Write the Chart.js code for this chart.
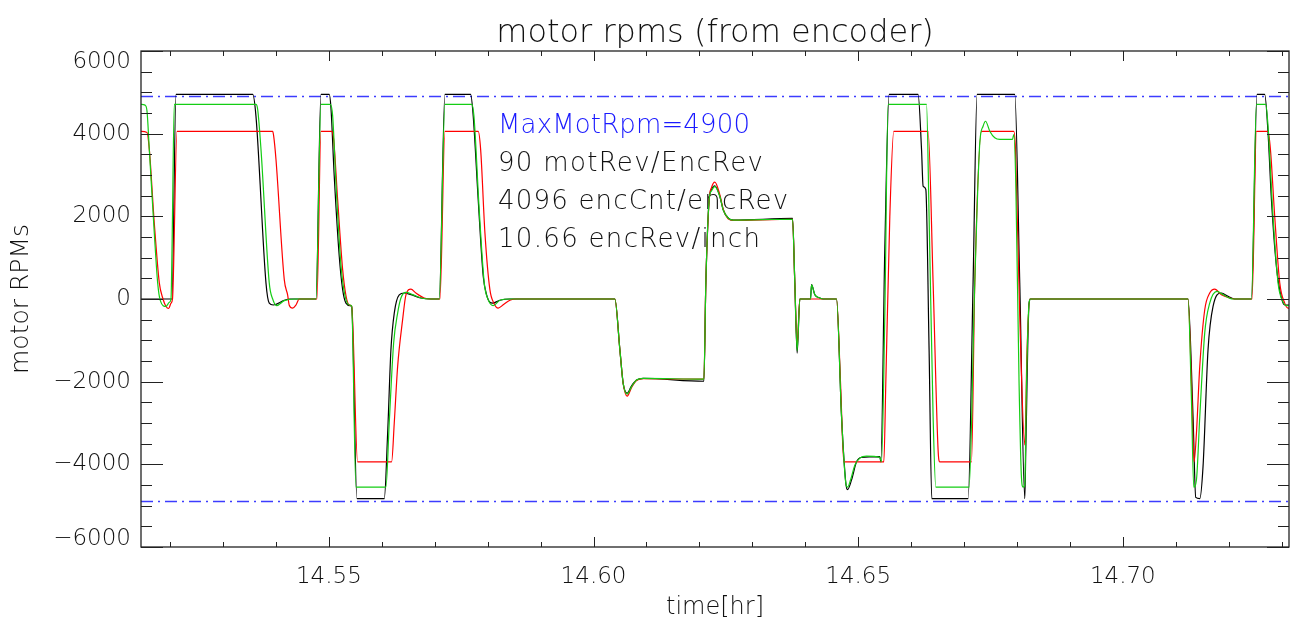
<!DOCTYPE html>
<html>
<head>
<meta charset="utf-8">
<script src="https://cdn.jsdelivr.net/npm/chart.js@4/dist/chart.umd.min.js"></script>
<style>
html,body{margin:0;padding:0;background:#fff;}
canvas{display:block;}
</style>
</head>
<body>
<canvas id="c" width="1297" height="624"></canvas>
<script>
// ---- data (time in hr, motor RPM) ----
const blackT = [14.51450,14.52036,14.52111,14.53560,14.53622,14.53811,14.53873,14.53949,14.54157,14.54264,
 14.54756,14.54850,14.55007,14.55039,14.55101,14.55196,14.55260,14.55322,14.55403,14.55430,14.55530,14.56046,
 14.56110,14.56172,14.56235,14.56329,14.56423,14.56550,14.56739,14.56928,14.57085,14.57192,14.57678,14.57727,
 14.57821,14.57916,14.57980,14.58042,14.58093,14.58231,14.58420,14.60403,14.60498,14.60560,14.60636,14.60719,
 14.60813,14.60938,14.62085,14.62122,14.62185,14.62230,14.62292,14.62387,14.62449,14.62544,14.62638,14.63760,
 14.63803,14.63847,14.63898,14.64100,14.64119,14.64181,14.64276,14.64338,14.64591,14.64686,14.64767,14.64799,
 14.64874,14.64969,14.65063,14.65409,14.65428,14.65503,14.65585,14.66132,14.66197,14.66227,14.66278,14.66340,
 14.66391,14.67077,14.67171,14.67247,14.67959,14.68053,14.68148,14.68167,14.68229,14.68256,14.71232,14.71327,
 14.71378,14.71454,14.71516,14.71610,14.71705,14.71863,14.71988,14.72115,14.72430,14.72536,14.72681,14.72744,
 14.72808,14.72902,14.72997,14.73059,14.73154];
const blackV = [0,0,4950,4950,4425,390,-100,-145,-30,0,
 0,4950,4950,4620,2970,1030,225,-100,-160,-180,-4830,-4830,
 -3250,-1230,-340,100,145,105,25,0,0,4950,4950,4425,
 2400,550,100,-80,-100,-30,0,0,-1230,-2040,-2280,-2100,
 -1960,-1920,-1990,390,2400,2650,2740,2480,2160,1960,1910,1950,
 390,-1310,0,0,350,105,25,0,0,-2850,-4460,-4610,
 -4380,-3940,-3830,-3815,-3940,1200,4950,4950,3620,2730,2650,-1230,
 -4830,-4830,390,4950,4950,390,-4830,-3650,-100,0,0,-2850,
 -4800,-4830,-4050,-1230,-180,145,65,0,0,4950,4950,4020,
 2400,790,25,-145,-145];

const greenT = [14.51450,14.51526,14.51563,14.51607,14.51701,14.51765,14.51815,14.51922,14.51985,14.52017,
 14.52036,14.52079,14.53622,14.53654,14.53717,14.53873,14.53938,14.54013,14.54157,14.54346,14.54756,14.54850,
 14.55026,14.55071,14.55133,14.55228,14.55303,14.55385,14.55430,14.55511,14.56078,14.56140,14.56223,14.56299,
 14.56361,14.56456,14.56582,14.56739,14.56928,14.57085,14.57192,14.57697,14.57740,14.57840,14.57935,14.58010,
 14.58105,14.58231,14.58420,14.60403,14.60498,14.60560,14.60636,14.60719,14.60813,14.60938,14.62085,14.62122,
 14.62185,14.62230,14.62292,14.62387,14.62449,14.62544,14.62638,14.63760,14.63803,14.63847,14.63898,14.64100,
 14.64119,14.64181,14.64276,14.64338,14.64591,14.64686,14.64767,14.64799,14.64856,14.64937,14.65031,14.65158,
 14.65409,14.65441,14.65503,14.65566,14.66291,14.66340,14.66416,14.66467,14.67096,14.67203,14.67298,14.67360,
 14.67406,14.67487,14.67581,14.67676,14.67916,14.67940,14.67978,14.68040,14.68086,14.68116,14.68148,14.68180,
 14.68229,14.68256,14.71232,14.71297,14.71340,14.71391,14.71454,14.71548,14.71642,14.71780,14.71894,14.72082,
 14.72430,14.72525,14.72700,14.72744,14.72838,14.72933,14.73016,14.73091,14.73154];
const greenV = [4710,4690,4550,3620,1600,390,-40,-180,-80,0,
 1200,4710,4710,4590,3620,390,0,-160,-40,0,0,4710,
 4710,4430,2810,820,85,-145,-170,-4550,-4550,-3000,-1070,-340,
 25,160,105,25,0,0,4710,4710,4430,2160,390,-15,
 -160,-30,0,0,-1230,-2040,-2300,-2120,-1960,-1920,-1940,390,
 2400,2620,2720,2480,2160,1960,1910,1930,390,-1250,0,0,
 340,105,25,0,0,-2850,-4460,-4550,-4380,-4020,-3850,-3800,
 -3830,-3940,-420,4710,4710,2000,-2850,-4550,-4550,390,3780,4180,
 4300,4060,3900,3860,3860,3980,2810,-2040,-4340,-4550,-4500,-2040,
 -100,0,0,-2440,-4550,-4380,-2850,-820,-100,185,105,0,
 0,4710,4710,4180,2000,390,-40,-160,-160];

const redT = [14.51450,14.51563,14.51607,14.51701,14.51796,14.51860,14.51922,14.51973,14.52017,14.52045,
 14.52130,14.53938,14.53957,14.54000,14.54157,14.54221,14.54251,14.54315,14.54378,14.54440,14.54774,14.54850,
 14.55052,14.55090,14.55165,14.55260,14.55322,14.55385,14.55430,14.55543,14.56185,14.56235,14.56299,14.56393,
 14.56456,14.56550,14.56644,14.56801,14.56928,14.57098,14.57192,14.57821,14.57867,14.57948,14.58042,14.58118,
 14.58199,14.58294,14.58420,14.58547,14.60403,14.60498,14.60560,14.60636,14.60719,14.60813,14.60938,14.62085,
 14.62122,14.62185,14.62230,14.62292,14.62387,14.62449,14.62544,14.62638,14.63760,14.63803,14.63847,14.63898,
 14.64591,14.64667,14.64729,14.65485,14.65522,14.65598,14.65673,14.66321,14.66416,14.66510,14.66542,14.67141,
 14.67203,14.67330,14.67940,14.67972,14.68053,14.68148,14.68191,14.68242,14.71232,14.71297,14.71346,14.71391,
 14.71454,14.71548,14.71642,14.71737,14.71863,14.72020,14.72115,14.72441,14.72525,14.72744,14.72789,14.72870,
 14.72965,14.73059,14.73121,14.73154];
const redV = [4055,4030,3620,1840,390,25,-180,-230,-100,0,
 4055,4055,3940,3380,470,95,-150,-220,-145,0,0,4055,
 4055,3860,2410,710,85,-145,-180,-3940,-3940,-3000,-1630,-500,
 100,240,145,25,0,0,4055,4055,3620,1600,225,-100,
 -220,-140,-30,0,0,-1230,-2040,-2350,-2140,-1970,-1930,-1940,
 390,2400,2700,2830,2520,2180,1940,1900,1930,390,-1100,0,
 0,-2040,-3940,-3940,-2040,2000,4055,4055,390,-3650,-3940,-3940,
 390,4055,4055,3620,-420,-3530,-1230,0,0,-2040,-3940,-3250,
 -1630,-260,145,240,105,25,0,0,4055,4055,3620,2000,
 390,-100,-220,-220];

const maxMotRpm = 4900;
const xRange = [14.5145, 14.7314];
const yRange = [-6000, 6000];
const xTicks = [14.55, 14.60, 14.65, 14.70];
const xTickLabels = ['14.55', '14.60', '14.65', '14.70'];
const yTicks = [-6000, -4000, -2000, 0, 2000, 4000, 6000];
const yTickLabels = ['\u22126000', '\u22124000', '\u22122000', '0', '2000', '4000', '6000'];
const xMinorStep = 0.01;
const yMinorStep = 500;
const titleText = 'motor rpms (from encoder)';
const xTitle = 'time[hr]';
const yTitle = 'motor RPMs';
const notes = ['MaxMotRpm=4900', '90 motRev/EncRev', '4096 encCnt/encRev', '10.66 encRev/inch'];

// ---- build ----
const pts = (T, V) => T.map((t, i) => ({x: t, y: V[i]}));
const FONT = "'DejaVu Sans', sans-serif";
const TXT = '#111';
const noteWidths = [252, 265, 290, 262];

function spacedText(ctx, s, x, y, width) {
  ctx.letterSpacing = '0px';
  const w = ctx.measureText(s).width;
  const sp = Math.max(0, (width - w) / (s.length - 1));
  ctx.letterSpacing = sp.toFixed(2) + 'px';
  ctx.fillText(s, x, y);
  ctx.letterSpacing = '0px';
}

const decor = {
  id: 'decor',
  beforeDatasetsDraw(chart) {
    const {ctx} = chart;
    ctx.save();
    ctx.font = '200 26px ' + FONT;
    ctx.textAlign = 'left';
    ctx.textBaseline = 'alphabetic';
    notes.forEach((s, i) => {
      ctx.fillStyle = i === 0 ? '#1a1aff' : TXT;
      spacedText(ctx, s, 498, 133 + i * 38, noteWidths[i]);
    });
    ctx.restore();
  },
  afterDraw(chart) {
    const {ctx, chartArea: a, scales: {x, y}} = chart;
    ctx.save();
    ctx.strokeStyle = '#222';
    ctx.lineWidth = 1.3;
    ctx.strokeRect(a.left, a.top, a.right - a.left, a.bottom - a.top);
    ctx.lineWidth = 1;
    ctx.beginPath();
    const xm = [];
    for (let v = Math.ceil(xRange[0] / xMinorStep) * xMinorStep; v <= xRange[1] + 1e-9; v += xMinorStep) xm.push(+v.toFixed(4));
    xm.forEach(v => {
      const px = Math.round(x.getPixelForValue(v)) + 0.5;
      const major = xTicks.some(t => Math.abs(t - v) < 1e-6);
      const L = major ? 10 : 5;
      ctx.moveTo(px, a.bottom); ctx.lineTo(px, a.bottom - L);
      ctx.moveTo(px, a.top); ctx.lineTo(px, a.top + L);
    });
    for (let v = yRange[0]; v <= yRange[1]; v += yMinorStep) {
      const py = Math.round(y.getPixelForValue(v)) + 0.5;
      const major = yTicks.includes(v);
      const L = major ? 22 : 11;
      ctx.moveTo(a.left, py); ctx.lineTo(a.left + L, py);
      ctx.moveTo(a.right, py); ctx.lineTo(a.right - L, py);
    }
    ctx.stroke();
    ctx.fillStyle = TXT;
    ctx.font = '200 23px ' + FONT;
    ctx.textAlign = 'center';
    ctx.textBaseline = 'alphabetic';
    xTicks.forEach((v, i) => ctx.fillText(xTickLabels[i], x.getPixelForValue(v), 583));
    ctx.textAlign = 'right';
    ctx.textBaseline = 'middle';
    yTicks.forEach((v, i) => {
      let py = y.getPixelForValue(v);
      py = Math.min(Math.max(py, a.top + 11), a.bottom - 8);
      ctx.fillText(yTickLabels[i], 131, py);
    });
    ctx.textAlign = 'center';
    ctx.textBaseline = 'alphabetic';
    ctx.font = '200 32px ' + FONT;
    ctx.fillText(titleText, (a.left + a.right) / 2, 42);
    ctx.font = '200 24px ' + FONT;
    ctx.fillText(xTitle, (a.left + a.right) / 2, 614);
    ctx.save();
    ctx.translate(28, (a.top + a.bottom) / 2);
    ctx.rotate(-Math.PI / 2);
    ctx.font = '200 25px ' + FONT;
    ctx.fillText(yTitle, 0, 0);
    ctx.restore();
    ctx.restore();
  }
};

const lineDS = (label, data, color, order, extra) => Object.assign({
  label, data, borderColor: color, backgroundColor: color, borderWidth: 1.2,
  pointRadius: 0, fill: false, cubicInterpolationMode: 'monotone', order
}, extra || {});

new Chart(document.getElementById('c'), {
  type: 'line',
  data: {
    datasets: [
      lineDS('green', pts(greenT, greenV), 'rgb(20,205,20)', 0),
      lineDS('red', pts(redT, redV), 'rgb(255,0,0)', 1),
      lineDS('black', pts(blackT, blackV), '#000', 2),
      lineDS('max', pts(xRange, [maxMotRpm, maxMotRpm]), 'rgb(60,60,255)', 3, {borderDash: [12, 5, 2, 5], borderWidth: 1.5, cubicInterpolationMode: 'default'}),
      lineDS('min', pts(xRange, [-maxMotRpm, -maxMotRpm]), 'rgb(60,60,255)', 3, {borderDash: [12, 5, 2, 5], borderWidth: 1.5, cubicInterpolationMode: 'default'})
    ]
  },
  options: {
    responsive: false,
    animation: false,
    devicePixelRatio: 1,
    layout: {padding: {left: 141, right: 8, top: 51, bottom: 77}},
    plugins: {legend: {display: false}, tooltip: {enabled: false}, title: {display: false}},
    scales: {
      x: {type: 'linear', min: xRange[0], max: xRange[1], display: false},
      y: {type: 'linear', min: yRange[0], max: yRange[1], display: false}
    }
  },
  plugins: [decor]
});
</script>
</body>
</html>
